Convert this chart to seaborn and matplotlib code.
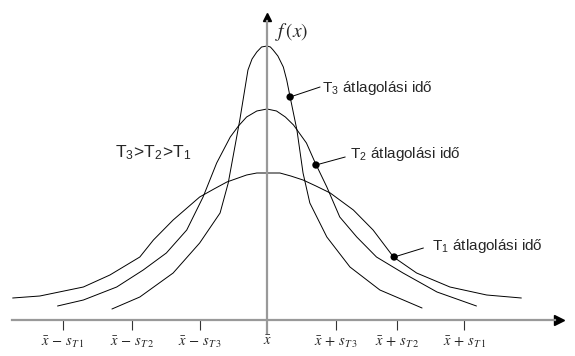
import numpy as np
import pandas as pd
import matplotlib
matplotlib.use("Agg")
import matplotlib.pyplot as plt
import seaborn as sns

# curve points (x in units of s_T3 around x-bar, y = f(x))
t1_x = [-3.74, -3.34, -2.70, -2.31, -1.87, -1.67, -1.38, -0.99, -0.78, -0.59, -0.30, -0.15, 0.0,
        0.19, 0.35, 0.53, 0.72, 0.93, 1.27, 1.56, 1.86, 2.20, 2.69, 3.23, 3.74]
t1_y = [0.22, 0.24, 0.33, 0.45, 0.63, 0.80, 1.00, 1.23, 1.31, 1.38, 1.45, 1.47, 1.47,
        1.47, 1.44, 1.40, 1.34, 1.27, 1.10, 0.90, 0.63, 0.47, 0.33, 0.25, 0.22]

t2_x = [-3.08, -2.70, -2.21, -1.82, -1.48, -1.18, -0.94, -0.74, -0.54, -0.42, -0.30, -0.15, 0.0,
        0.14, 0.27, 0.39, 0.58, 0.71, 0.88, 1.07, 1.32, 1.61, 2.00, 2.50, 3.08]
t2_y = [0.14, 0.20, 0.33, 0.50, 0.67, 0.90, 1.23, 1.57, 1.83, 1.94, 2.03, 2.09, 2.11,
        2.09, 2.03, 1.95, 1.77, 1.57, 1.33, 1.03, 0.83, 0.63, 0.47, 0.28, 0.14]

t3_x = [-2.28, -1.87, -1.38, -0.99, -0.69, -0.57, -0.50, -0.40, -0.28, -0.22, -0.15, -0.08, 0.0,
        0.05, 0.09, 0.16, 0.24, 0.29, 0.34, 0.44, 0.53, 0.63, 0.88, 1.22, 1.66, 2.28]
t3_y = [0.11, 0.23, 0.47, 0.77, 1.07, 1.37, 1.63, 2.00, 2.50, 2.61, 2.68, 2.73, 2.74,
        2.73, 2.70, 2.64, 2.53, 2.40, 2.23, 1.90, 1.47, 1.17, 0.83, 0.53, 0.30, 0.12]

# marked points and their labels
dot_x = [0.34, 0.72, 1.87]
dot_y = [2.23, 1.55, 0.63]
lead_x = [0.78, 1.15, 2.30]
lead_y = [2.33, 1.63, 0.72]
lab_x = [0.81, 1.22, 2.42]
lab_y = [2.28, 1.62, 0.70]
lab_txt = [r"T$_\mathregular{3}$ átlagolási idő",
           r"T$_\mathregular{2}$ átlagolási idő",
           r"T$_\mathregular{1}$ átlagolási idő"]

tick_pos = [-3.0, -1.99, -0.985, 0.0, 1.01, 1.91, 2.90]
tick_lab = [r"$\bar{x}\,-\,s_{T\,1}$", r"$\bar{x}\,-\,s_{T\,2}$", r"$\bar{x}\,-\,s_{T\,3}$", r"$\bar{x}$",
            r"$\bar{x}\,+\,s_{T\,3}$", r"$\bar{x}\,+\,s_{T\,2}$", r"$\bar{x}\,+\,s_{T\,1}$"]

sns.set_style("white")
plt.rcParams["font.family"] = ["Liberation Sans", "DejaVu Sans"]
plt.rcParams["mathtext.fontset"] = "stix"

fig = plt.figure(figsize=(5.75, 3.56), dpi=100)
ax = fig.add_axes([0, 0, 1, 1])

for xs, ys in [(t1_x, t1_y), (t2_x, t2_y), (t3_x, t3_y)]:
    df = pd.DataFrame({"x": xs, "y": ys})
    sns.lineplot(data=df, x="x", y="y", sort=False, estimator=None,
                 color="black", linewidth=0.7, ax=ax,
                 solid_joinstyle="round")

for i in range(3):
    ax.plot([dot_x[i], lead_x[i]], [dot_y[i], lead_y[i]], color="black", lw=0.7)
    ax.text(lab_x[i], lab_y[i], lab_txt[i], fontsize=11, va="baseline", ha="left")
sns.scatterplot(x=dot_x, y=dot_y, color="black", s=28, edgecolor="none", ax=ax, zorder=5)

ax.text(-2.24, 1.62, r"T$_\mathregular{3}$>T$_\mathregular{2}$>T$_\mathregular{1}$",
        fontsize=12.5, va="baseline", ha="left")
ax.text(0.12, 2.88, r"$f\,(x)$", fontsize=14, va="center", ha="left")

ax.set_xlim(-3.926, 4.529)
ax.set_ylim(-0.36, 3.20)

axis_col = "#999999"
for s in ["top", "right"]:
    ax.spines[s].set_visible(False)
ax.spines["bottom"].set_position(("data", 0))
ax.spines["left"].set_position(("data", 0))
ax.spines["bottom"].set_color(axis_col)
ax.spines["left"].set_color(axis_col)
ax.spines["bottom"].set_linewidth(1.6)
ax.spines["left"].set_linewidth(1.6)
ax.spines["bottom"].set_bounds(-3.75, 4.24)
ax.spines["left"].set_bounds(-0.13, 2.99)
ax.plot([4.30], [0], marker=">", color="black", markersize=7, clip_on=False)
ax.plot([0], [3.03], marker="^", color="black", markersize=6, clip_on=False)

ax.set_yticks([])
ax.set_xticks(tick_pos)
ax.set_xticklabels(tick_lab, fontsize=10.5)
ax.tick_params(axis="x", direction="out", length=7, width=0.8, color="#333333",
               pad=3, bottom=True)
ax.xaxis.get_major_ticks()[3].tick1line.set_visible(False)
ax.set_xlabel("")
ax.set_ylabel("")

fig.savefig("out.png", dpi=100)
plt.close(fig)
